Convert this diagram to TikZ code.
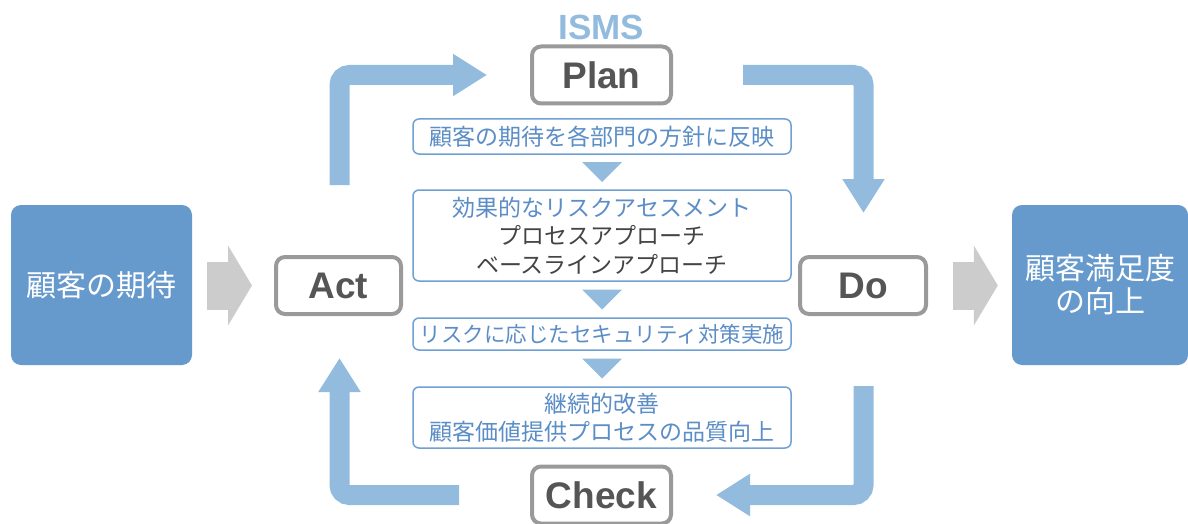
\documentclass[tikz,border=0pt]{standalone}
\usepackage{fontspec}
\setmainfont{Liberation Sans}
\newfontfamily\jp{Noto Sans CJK JP}
\usetikzlibrary{arrows.meta,calc}
\definecolor{flowblue}{HTML}{93BBDE}
\definecolor{boxblue}{HTML}{6699CC}
\definecolor{txtblue}{HTML}{5B8DC6}
\definecolor{lineblue}{HTML}{6FA0D6}
\definecolor{phasegray}{HTML}{9A9A9A}
\definecolor{phasetext}{HTML}{555555}
\definecolor{graytxt}{HTML}{444444}
\definecolor{arrowgray}{HTML}{CCCCCC}
\begin{document}
\begin{tikzpicture}[x=1pt,y=-1pt,
  phase/.style={draw=phasegray, line width=4pt, fill=white, rounded corners=9pt,
    minimum height=57pt, inner sep=0pt, text=phasetext,
    font=\fontsize{37}{42}\selectfont\bfseries},
  bigbox/.style={fill=boxblue, rounded corners=10pt, minimum height=160pt,
    inner sep=0pt, text=white, align=center, font=\jp\fontsize{30}{33}\selectfont},
  stepbox/.style={draw=lineblue, line width=1.5pt, fill=white, rounded corners=6pt,
    minimum width=378pt, inner sep=0pt, text=txtblue, align=center,
    font=\jp\fontsize{23}{28.5}\selectfont},
  flow/.style={draw=flowblue, line width=20pt, rounded corners=10pt,
    -{Triangle[length=34pt 0 0, width=40pt 0 0]}},
  grayarrow/.style={draw=arrowgray, line width=48pt,
    -{Triangle[length=24pt 0 0, width=79pt 0 0]}},
  tri/.style={fill=flowblue}
]
\useasboundingbox (0,0) rectangle (1188,524);

% title
\node[text=flowblue, font=\fontsize{35}{38}\selectfont\bfseries] (isms) at (601.5,27) {ISMS};

% PDCA phase boxes
\node[phase, minimum width=139pt] (plan) at (601.5,75) {Plan};
\node[phase, minimum width=125pt] (act) at (338.5,285.5) {Act};
\node[phase, minimum width=126pt] (do) at (863,285.5) {Do};
\node[phase, minimum width=139pt] (check) at (601.5,495) {Check};

% outer boxes
\node[bigbox, minimum width=181pt] (cust) at (101.5,285) {顧客の期待};
\node[bigbox, minimum width=176pt] (sat) at (1100,285) {顧客満足度\\の向上};

% step boxes
\node[stepbox, minimum height=35pt] (s1) at (602,136.5) {顧客の期待を各部門の方針に反映};
\node[stepbox, minimum height=91pt] (s2) at (602,235.5)
  {効果的なリスクアセスメント\\\textcolor{graytxt}{プロセスアプローチ}\\\textcolor{graytxt}{ベースラインアプローチ}};
\node[stepbox, minimum height=32pt, font=\jp\fontsize{21.5}{28}\selectfont] (s3) at (602,334) {リスクに応じたセキュリティ対策実施};
\node[stepbox, minimum height=61pt, font=\jp\fontsize{23}{28}\selectfont] (s4) at (602,417.5) {継続的改善\\顧客価値提供プロセスの品質向上};

% small triangles between step boxes
\foreach \a/\b in {s1/s2, s2/s3, s3/s4}{
  \fill[tri] ($(\a.south)!0.5!(\b.north)+(-20,-10)$) -- ++(40,0)
     -- ($(\a.south)!0.5!(\b.north)+(0,10)$) -- cycle;
}

% PDCA cycle arrows
\coordinate (actout) at ($(act.north)+(1,-70)$);
\coordinate (planin) at ($(plan.west)+(-43,0)$);
\coordinate (planout) at ($(plan.east)+(70,0)$);
\coordinate (doin) at ($(do.north)+(0.5,-42)$);
\coordinate (doout) at ($(do.south)+(0.5,70)$);
\coordinate (checkin) at ($(check.east)+(43,0)$);
\coordinate (checkout) at ($(check.west)+(-71,0)$);
\coordinate (actin) at ($(act.south)+(1,42)$);
\draw[flow] (actout) |- (planin);
\draw[flow] (planout) -| (doin);
\draw[flow] (doout) |- (checkin);
\draw[flow] (checkout) -| (actin);

% gray arrows
\draw[grayarrow] ($(cust.east)+(15,0.5)$) -- ($(act.west)+(-22,0)$);
\draw[grayarrow] ($(do.east)+(25,0)$) -- ($(sat.west)+(-14,0.5)$);
\end{tikzpicture}
\end{document}
